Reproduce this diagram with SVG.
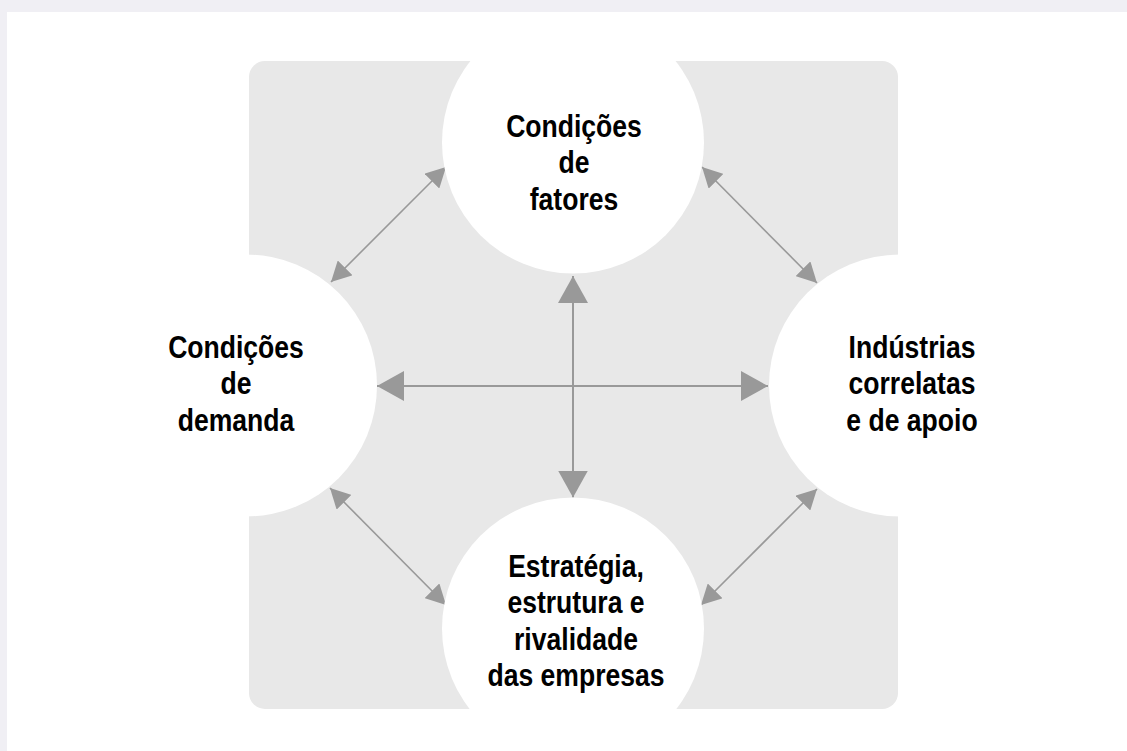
<svg xmlns="http://www.w3.org/2000/svg" width="1127" height="751" viewBox="0 0 1127 751">
<style>
.lbl{font-family:"Liberation Sans",Arial,sans-serif;font-weight:bold;font-size:32px;fill:#000;text-anchor:middle}
.circ{fill:#fff}
.main{stroke:#999;stroke-width:2;fill:none}
.diag{stroke:#999;stroke-width:1.6;fill:none}
</style>
<defs>
<marker id="bigHead" viewBox="0 0 27 30" refX="27" refY="15" markerWidth="27" markerHeight="30" markerUnits="userSpaceOnUse" orient="auto-start-reverse"><path d="M0,0 L27,15 L0,30 z" fill="#999"/></marker>
<marker id="smallHead" viewBox="0 0 20 21" refX="20" refY="10.5" markerWidth="20" markerHeight="21" markerUnits="userSpaceOnUse" orient="auto-start-reverse"><path d="M0,0 L20,10.5 L0,21 z" fill="#999"/></marker>
<clipPath id="panel"><rect x="249" y="61" width="649" height="648" rx="16"/></clipPath>
</defs>
<rect x="0" y="0" width="1127" height="751" fill="#f0eff4"/>
<rect x="7" y="12" width="1120" height="739" fill="#fff"/>
<rect id="panel-bg" x="249" y="61" width="649" height="648" rx="16" fill="#e8e8e8"/>
<g id="connectors">
<line class="main" x1="573" y1="276" x2="573" y2="497.5" marker-start="url(#bigHead)" marker-end="url(#bigHead)"/>
<line class="main" x1="377" y1="386" x2="768" y2="386" marker-start="url(#bigHead)" marker-end="url(#bigHead)"/>
<line class="diag" x1="331" y1="282" x2="446" y2="167" marker-start="url(#smallHead)" marker-end="url(#smallHead)"/>
<line class="diag" x1="702" y1="167" x2="817" y2="283" marker-start="url(#smallHead)" marker-end="url(#smallHead)"/>
<line class="diag" x1="330" y1="488" x2="446" y2="605" marker-start="url(#smallHead)" marker-end="url(#smallHead)"/>
<line class="diag" x1="817" y1="489" x2="701" y2="605" marker-start="url(#smallHead)" marker-end="url(#smallHead)"/>
</g>
<g id="fatores">
<circle class="circ" cx="573" cy="142.5" r="131" clip-path="url(#panel)"/>
<g transform="translate(574 0) scale(0.83 1)">
<text class="lbl" x="0" y="137">Condições</text>
<text class="lbl" x="0" y="173.5">de</text>
<text class="lbl" x="0" y="210">fatores</text>
</g>
</g>
<g id="demanda">
<circle class="circ" cx="246" cy="385.5" r="131"/>
<g transform="translate(236 0) scale(0.83 1)">
<text class="lbl" x="0" y="358">Condições</text>
<text class="lbl" x="0" y="394.5">de</text>
<text class="lbl" x="0" y="431">demanda</text>
</g>
</g>
<g id="industrias">
<circle class="circ" cx="900" cy="385.5" r="131"/>
<g transform="translate(912 0) scale(0.83 1)">
<text class="lbl" x="0" y="358">Indústrias</text>
<text class="lbl" x="0" y="394.5">correlatas</text>
<text class="lbl" x="0" y="431">e de apoio</text>
</g>
</g>
<g id="estrategia">
<circle class="circ" cx="573" cy="628.5" r="131" clip-path="url(#panel)"/>
<g transform="translate(576 0) scale(0.83 1)">
<text class="lbl" x="0" y="577">Estratégia,</text>
<text class="lbl" x="0" y="613.5">estrutura e</text>
<text class="lbl" x="0" y="650">rivalidade</text>
<text class="lbl" x="0" y="686.5">das empresas</text>
</g>
</g>
</svg>
